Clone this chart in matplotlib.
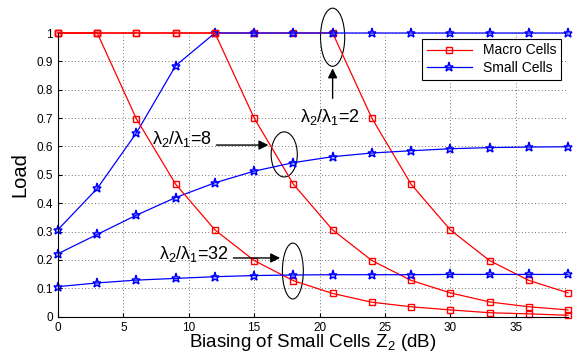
import numpy as np
from matplotlib import pyplot as plt
from matplotlib.patches import Ellipse

plt.rcParams["font.family"] = ["Liberation Sans", "DejaVu Sans"]
plt.rcParams["mathtext.fontset"] = "custom"
plt.rcParams["mathtext.rm"] = "Liberation Sans"
plt.rcParams["mathtext.it"] = "Liberation Sans"

bias_db = [0, 3, 6, 9, 12, 15, 18, 21, 24, 27, 30, 33, 36, 39]

macro_r2 = [1, 1, 1, 1, 1, 1, 1, 1, 0.70, 0.467, 0.306, 0.198, 0.128, 0.084]
macro_r8 = [1, 1, 1, 1, 1, 0.70, 0.467, 0.306, 0.198, 0.128, 0.084, 0.052, 0.035, 0.024]
macro_r32 = [1, 1, 0.697, 0.467, 0.306, 0.198, 0.127, 0.082, 0.051, 0.035, 0.024, 0.014, 0.010, 0.005]

small_r2 = [0.307, 0.452, 0.648, 0.885, 1, 1, 1, 1, 1, 1, 1, 1, 1, 1]
small_r8 = [0.222, 0.290, 0.358, 0.420, 0.472, 0.513, 0.543, 0.564, 0.577, 0.585, 0.592, 0.596, 0.598, 0.599]
small_r32 = [0.106, 0.119, 0.129, 0.135, 0.141, 0.145, 0.147, 0.148, 0.148, 0.148, 0.149, 0.149, 0.149, 0.149]

fig = plt.figure(figsize=(5.74, 3.56), dpi=100)
ax = fig.add_axes([58 / 574, 1 - 316.7 / 356, (568 - 58) / 574, (316.7 - 33) / 356])

for i, (m, s) in enumerate([(macro_r2, small_r2), (macro_r8, small_r8), (macro_r32, small_r32)]):
    ax.plot(bias_db, m, "r-s", markeredgecolor="r", markersize=5, markerfacecolor="none",
            linewidth=0.9, clip_on=False, label="Macro Cells" if i == 0 else None)
    ax.plot(bias_db, s, "b-*", markeredgecolor="b", markersize=6.5, markerfacecolor="none",
            markeredgewidth=1.1, linewidth=0.9, clip_on=False,
            label="Small Cells" if i == 0 else None)

ax.set_xlim(0, 39)
ax.set_ylim(0, 1)
ax.set_xticks([0, 5, 10, 15, 20, 25, 30, 35])
ax.set_yticks(np.arange(0, 1.01, 0.1))
ax.set_yticklabels(["0", "0.1", "0.2", "0.3", "0.4", "0.5", "0.6", "0.7", "0.8", "0.9", "1"])
ax.tick_params(labelsize=8.5, direction="in", length=3)
ax.grid(True, color="0.25", linestyle=(0, (1, 3)), linewidth=0.6)
for side in ["top", "right"]:
    ax.spines[side].set_visible(False)

ax.set_xlabel("Biasing of Small Cells Z$_2$ (dB)", fontsize=13.5, labelpad=-1)
ax.set_ylabel("Load", fontsize=14.5, labelpad=5)

# ellipses and annotations
for cx, cy, w, h in [(21, 0.985, 1.85, 0.205), (17.3, 0.572, 2.0, 0.159), (17.96, 0.161, 1.6, 0.197)]:
    ax.add_patch(Ellipse((cx, cy), w, h, fill=False, edgecolor="k", linewidth=0.8, clip_on=False))

arrow = dict(arrowstyle="-|>", color="k", linewidth=1.0, mutation_scale=14)
ax.annotate("", xy=(21, 0.885), xytext=(21, 0.76), arrowprops=arrow)
ax.text(18.5, 0.705, r"λ$_2$/λ$_1$=2", fontsize=13, va="center")
ax.annotate("", xy=(16.3, 0.605), xytext=(11.9, 0.605), arrowprops=arrow)
ax.text(7.2, 0.625, r"λ$_2$/λ$_1$=8", fontsize=13, va="center")
ax.annotate("", xy=(17.2, 0.207), xytext=(13.2, 0.207), arrowprops=arrow)
ax.text(7.7, 0.222, r"λ$_2$/λ$_1$=32", fontsize=13, va="center")

leg = ax.legend(loc="upper right", bbox_to_anchor=(1.0, 1.005), fontsize=10, fancybox=False,
                framealpha=1, edgecolor="k", borderpad=0.35, handlelength=3.2, labelspacing=0.25)
leg.get_frame().set_linewidth(0.8)

fig.savefig("out.png", dpi=100)
